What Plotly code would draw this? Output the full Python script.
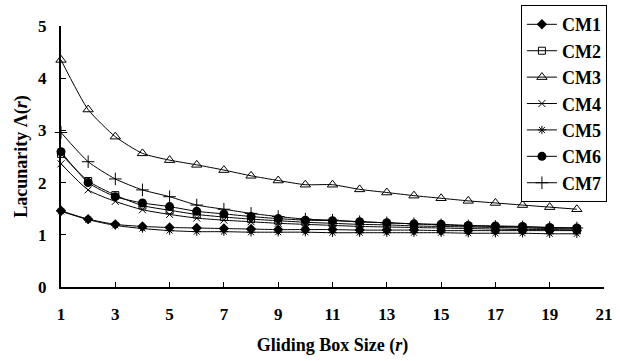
import plotly.graph_objects as go

box_size = list(range(1, 21))
x_ticks = [1, 3, 5, 7, 9, 11, 13, 15, 17, 19, 21]
y_ticks = [0, 1, 2, 3, 4, 5]

cm1 = [1.46, 1.30, 1.20, 1.16, 1.14, 1.13, 1.12, 1.11, 1.10, 1.10, 1.10, 1.09, 1.09, 1.09, 1.08, 1.08, 1.08, 1.08, 1.08, 1.08]
cm2 = [2.55, 2.03, 1.76, 1.56, 1.47, 1.39, 1.34, 1.30, 1.27, 1.24, 1.22, 1.20, 1.19, 1.17, 1.16, 1.15, 1.14, 1.13, 1.12, 1.11]
cm3 = [4.35, 3.40, 2.88, 2.56, 2.43, 2.34, 2.24, 2.13, 2.04, 1.96, 1.96, 1.87, 1.81, 1.75, 1.70, 1.65, 1.61, 1.57, 1.53, 1.49]
cm4 = [2.36, 1.86, 1.64, 1.48, 1.39, 1.32, 1.28, 1.25, 1.22, 1.20, 1.18, 1.16, 1.15, 1.14, 1.13, 1.12, 1.11, 1.10, 1.10, 1.09]
cm5 = [1.45, 1.29, 1.18, 1.12, 1.08, 1.06, 1.06, 1.05, 1.05, 1.05, 1.04, 1.04, 1.04, 1.04, 1.04, 1.03, 1.03, 1.03, 1.02, 1.02]
cm6 = [2.59, 2.00, 1.73, 1.61, 1.54, 1.45, 1.40, 1.35, 1.31, 1.28, 1.27, 1.25, 1.23, 1.21, 1.20, 1.18, 1.17, 1.16, 1.14, 1.13]
cm7 = [2.96, 2.40, 2.07, 1.86, 1.73, 1.57, 1.49, 1.41, 1.35, 1.30, 1.28, 1.25, 1.23, 1.21, 1.19, 1.17, 1.16, 1.15, 1.14, 1.13]

series = [
    ("CM1", cm1, dict(symbol="diamond", size=8, color="black")),
    ("CM2", cm2, dict(symbol="square-open", size=7, color="black", line=dict(width=1, color="black"))),
    ("CM3", cm3, dict(symbol="triangle-up-open", size=9, color="black", line=dict(width=1, color="black"))),
    ("CM4", cm4, dict(symbol="x-thin", size=7, color="black", line=dict(width=1, color="black"))),
    ("CM5", cm5, dict(symbol="asterisk", size=7, color="black", line=dict(width=1, color="black"))),
    ("CM6", cm6, dict(symbol="circle", size=9, color="black")),
    ("CM7", cm7, dict(symbol="cross-thin", size=9, color="black", line=dict(width=1, color="black"))),
]

fig = go.Figure()
for name, vals, marker in series:
    fig.add_trace(go.Scatter(
        x=box_size, y=vals, name=name, mode="lines+markers",
        line=dict(color="black", width=1, shape="spline", smoothing=0.6),
        marker=marker, cliponaxis=False,
    ))

font_family = "Liberation Serif"
fig.update_layout(
    width=620, height=361,
    margin=dict(l=61, r=16, t=26, b=74, autoexpand=False),
    paper_bgcolor="white", plot_bgcolor="white",
    font=dict(family=font_family, size=17, color="black"),
    showlegend=True,
    legend=dict(
        x=0.847, y=1.08, xanchor="left", yanchor="top",
        bordercolor="black", borderwidth=1, bgcolor="white",
        font=dict(family=font_family, size=18, color="black", weight="bold"),
        itemwidth=30, tracegroupgap=0, maxheight=400,
    ),
    xaxis=dict(
        range=[1, 21], tickvals=x_ticks, ticktext=[str(v) for v in x_ticks],
        showline=True, linecolor="black", linewidth=2, showgrid=False, zeroline=False,
        ticks="inside", ticklen=5, tickwidth=1, tickcolor="black",
        tickfont=dict(family=font_family, size=17, weight="bold"),
        ticklabelstandoff=11, automargin=False,
        title=dict(text="Gliding Box Size (<i>r</i>)", standoff=15,
                   font=dict(family=font_family, size=18, weight="bold")),
    ),
    yaxis=dict(
        range=[0, 5], tickvals=y_ticks, ticktext=[str(v) for v in y_ticks],
        showline=True, linecolor="black", linewidth=2, showgrid=False, zeroline=False,
        ticks="inside", ticklen=5, tickwidth=1, tickcolor="black",
        tickfont=dict(family=font_family, size=17, weight="bold"),
        ticklabelstandoff=9, automargin=False,
        title=dict(text="Lacunarity Λ(<i>r</i>)", standoff=6,
                   font=dict(family=font_family, size=18, weight="bold")),
    ),
)

fig.write_html("out.html", config={"displayModeBar": False},
               post_script="document.body.style.margin='0';")
